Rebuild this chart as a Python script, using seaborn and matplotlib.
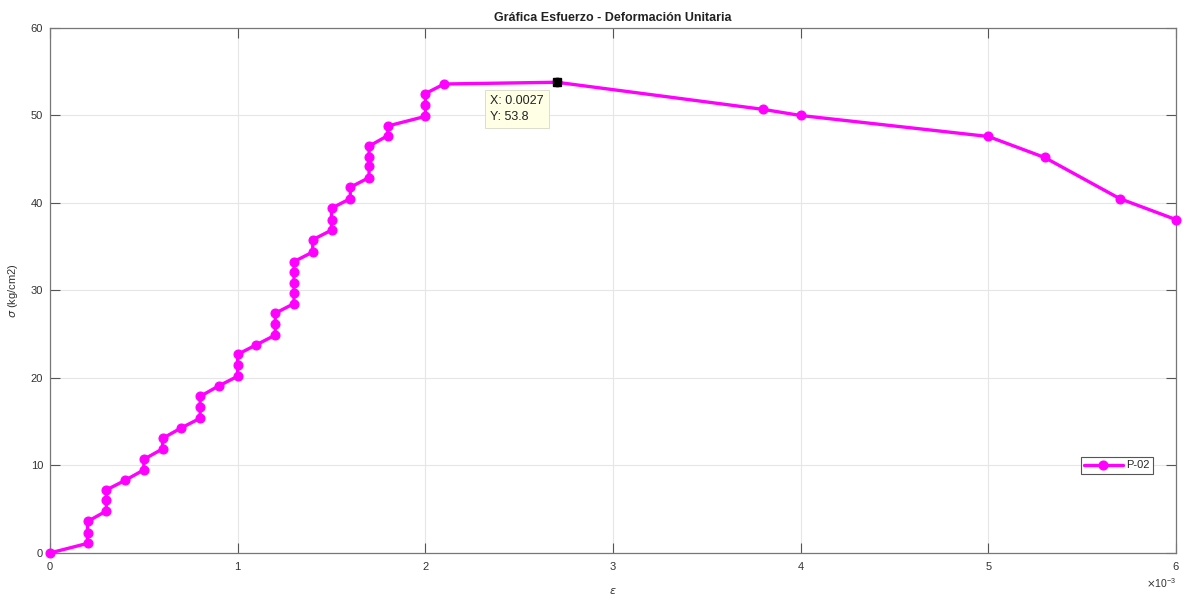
import numpy as np
import pandas as pd
import seaborn as sns
import matplotlib.pyplot as plt
from matplotlib.ticker import ScalarFormatter

# strain (mm/mm) and stress (kg/cm2)
strain = [0.0, 0.0002, 0.0002, 0.0002, 0.0003, 0.0003, 0.0003, 0.0004, 0.0005, 0.0005,
          0.0006, 0.0006, 0.0007, 0.0008, 0.0008, 0.0008, 0.0009, 0.0010, 0.0010, 0.0010,
          0.0011, 0.0012, 0.0012, 0.0012, 0.0013, 0.0013, 0.0013, 0.0013, 0.0013, 0.0014,
          0.0014, 0.0015, 0.0015, 0.0015, 0.0016, 0.0016, 0.0017, 0.0017, 0.0017, 0.0017,
          0.0018, 0.0018, 0.0020, 0.0020, 0.0020, 0.0021, 0.0027, 0.0038, 0.0040, 0.0050,
          0.0053, 0.0057, 0.0060]
stress = [0.0, 1.1, 2.3, 3.6, 4.8, 6.0, 7.2, 8.3, 9.5, 10.7,
          11.9, 13.1, 14.3, 15.4, 16.7, 17.9, 19.1, 20.2, 21.5, 22.7,
          23.8, 24.9, 26.2, 27.4, 28.5, 29.7, 30.9, 32.1, 33.3, 34.4,
          35.8, 36.9, 38.1, 39.4, 40.5, 41.8, 42.9, 44.2, 45.3, 46.5,
          47.7, 48.8, 49.9, 51.2, 52.5, 53.6, 53.8, 50.7, 50.0, 47.6,
          45.2, 40.5, 38.1]
tip_x, tip_y = 0.0027, 53.8
specimen = 'P-02'

df = pd.DataFrame({'eps': strain, 'sigma': stress, 'probeta': specimen})

sns.set_style('whitegrid')
plt.rcParams['font.family'] = ['Liberation Sans', 'DejaVu Sans']

fig = plt.figure(figsize=(11.96, 6.06), dpi=100)
ax = fig.add_axes([0.0418, 0.0875, 0.9415, 0.8663])

sns.lineplot(data=df, x='eps', y='sigma', hue='probeta', palette=['#ff00ff'],
             sort=False, estimator=None, marker='o', markersize=6.5,
             markeredgecolor='#ff00ff', linewidth=2.4, clip_on=False, zorder=4, ax=ax)

# data cursor
ax.plot(tip_x, tip_y, marker='s', color='black', markersize=6, zorder=5)
ax.annotate(f'X: {tip_x}\nY: {tip_y}', xy=(tip_x, tip_y), xytext=(-48, -9),
            textcoords='offset points', ha='left', va='top', fontsize=9,
            color='#222222', linespacing=1.45,
            bbox=dict(boxstyle='square,pad=0.4', fc='#ffffe6', ec='#d8d8c8', lw=0.6))

ax.set_xlim(0, 0.006)
ax.set_ylim(0, 60)
ax.set_xticks(np.arange(0, 0.0061, 0.001))
ax.set_yticks(np.arange(0, 61, 10))
fmt = ScalarFormatter(useMathText=True)
fmt.set_powerlimits((-3, -3))
ax.xaxis.set_major_formatter(fmt)
ax.xaxis.get_offset_text().set_fontsize(7.5)
ax.xaxis.get_offset_text().set_color('#555555')

ax.grid(True, color='#e6e6e6', linewidth=0.8)
for s in ax.spines.values():
    s.set_color('#777777')
    s.set_linewidth(0.9)
ax.tick_params(direction='in', length=7, width=0.8, color='#555555',
               labelsize=8, labelcolor='#333333', top=True, right=True,
               bottom=True, left=True, pad=5)

ax.set_title('Gráfica Esfuerzo - Deformación Unitaria', fontsize=9, fontweight='bold',
             color='#222222', pad=5)
ax.set_xlabel('$\\epsilon$', fontsize=8, color='#333333', labelpad=10)
ax.set_ylabel('$\\sigma$ (kg/cm2)', fontsize=8, color='#333333', labelpad=8)

leg = ax.legend(loc='center right', bbox_to_anchor=(0.9845, 0.1667), fontsize=8,
                frameon=True, fancybox=False, edgecolor='#555555', framealpha=1,
                handlelength=3.5, handletextpad=0.3, borderpad=0.3)
leg.get_frame().set_linewidth(0.8)

fig.savefig('out.png', dpi=100)
